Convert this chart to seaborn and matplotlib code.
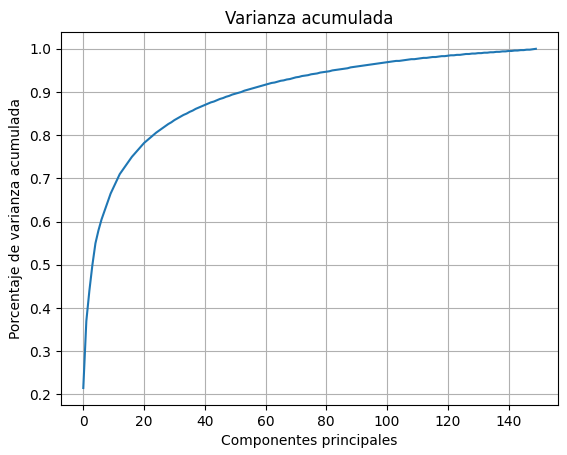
import matplotlib
matplotlib.use('Agg')
import matplotlib.pyplot as plt
import numpy as np
import seaborn as sns

# cumulative explained variance, one value per component
var_0_20 = [0.215, 0.37, 0.44, 0.50, 0.55, 0.58, 0.605, 0.625, 0.645, 0.665, 0.68,
            0.695, 0.71, 0.72, 0.73, 0.74, 0.75, 0.758, 0.766, 0.774, 0.782]
var_21_80 = [.788, .794, .800, .806, .811, .816, .821, .826, .830, .835,
             .839, .843, .847, .850, .854, .857, .861, .864, .867, .870,
             .873, .876, .878, .881, .884, .886, .889, .891, .894, .896,
             .898, .900, .903, .905, .907, .909, .911, .913, .915, .917,
             .919, .921, .922, .924, .926, .927, .929, .930, .932, .934,
             .935, .937, .938, .939, .941, .942, .943, .945, .946, .947]
var_81_149 = [.948, .950, .951, .952, .953, .954, .955, .957, .958, .959,
              .960, .961, .962, .963, .964, .965, .966, .967, .968, .969,
              .970, .971, .972, .972, .973, .974, .975, .976, .976, .977,
              .978, .979, .979, .980, .981, .981, .982, .983, .983, .984,
              .985, .985, .986, .986, .987, .988, .988, .989, .989, .990,
              .990, .991, .991, .992, .992, .993, .993, .994, .994, .995,
              .995, .996, .996, .997, .997, .998, .998, .999, 1.0]

varianza = var_0_20 + var_21_80 + var_81_149
componentes = np.arange(len(varianza))

fig, ax = plt.subplots(figsize=(5.67, 4.55), dpi=100)
sns.lineplot(x=componentes, y=varianza, ax=ax, color='#1f77b4')
ax.set(xlabel='Componentes principales', ylabel='Porcentaje de varianza acumulada',
       title='Varianza acumulada')
ax.grid(True)
fig.subplots_adjust(left=0.107, right=0.985, bottom=0.11, top=0.93)
fig.savefig('out.png')
